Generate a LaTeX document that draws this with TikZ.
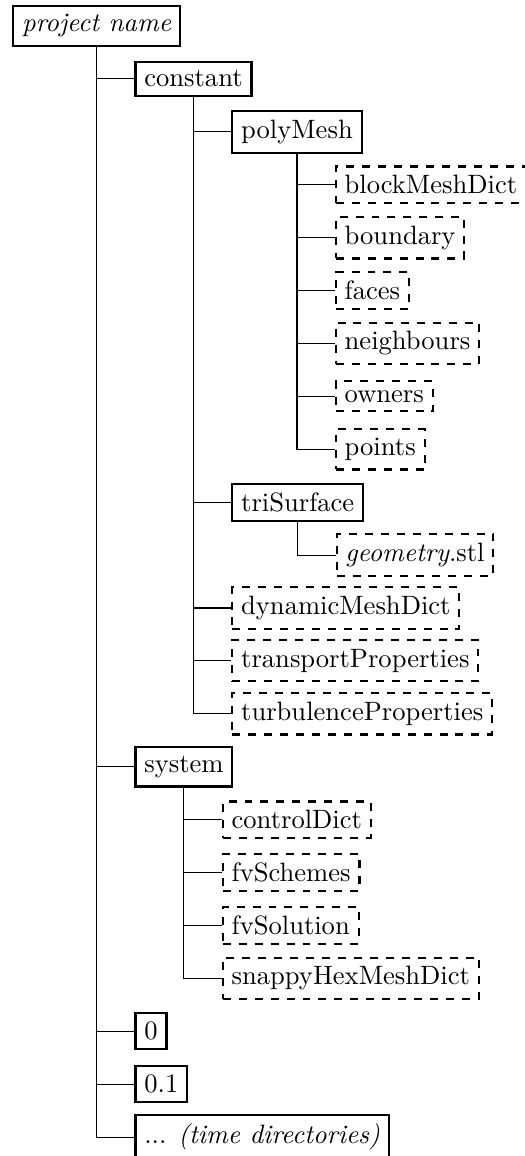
\documentclass[tikz,border=0pt]{standalone}
\begin{document}
\begin{tikzpicture}[
  dirbox/.style={draw, thick, anchor=west, xshift=5mm},
  filebox/.style={dirbox, dashed}
]
\useasboundingbox (-0.16,0.344) rectangle (6.78,-14.95);
\node[draw, thick, anchor=west] (root) at (0,0) {\textit{project name}};
%first level
\node[dirbox] (constant) at (root.south |- 0,-0.7) {constant};
\node[dirbox] (system) at (root.south |- 0,-9.8) {system};
\node[dirbox] (tzero) at (root.south |- 0,-13.3) {0};
\node[dirbox] (tone) at (root.south |- 0,-14.0) {0.1};
\node[dirbox] (tmore) at (root.south |- 0,-14.7) {... \textit{(time directories)}};
%inside constant
\node[dirbox] (polyMesh) at (constant.south |- 0,-1.4) {polyMesh};
\node[dirbox] (triSurface) at (constant.south |- 0,-6.3) {triSurface};
\node[filebox] (dynamic) at (constant.south |- 0,-7.7) {dynamicMeshDict};
\node[filebox] (transport) at (constant.south |- 0,-8.4) {transportProperties};
\node[filebox] (turbulence) at (constant.south |- 0,-9.1) {turbulenceProperties};
%inside polyMesh
\node[filebox] (blockMesh) at (polyMesh.south |- 0,-2.1) {blockMeshDict};
\node[filebox] (boundary) at (polyMesh.south |- 0,-2.8) {boundary};
\node[filebox] (faces) at (polyMesh.south |- 0,-3.5) {faces};
\node[filebox] (neighbours) at (polyMesh.south |- 0,-4.2) {neighbours};
\node[filebox] (owners) at (polyMesh.south |- 0,-4.9) {owners};
\node[filebox] (points) at (polyMesh.south |- 0,-5.6) {points};
%inside triSurface
\node[filebox] (geometry) at (triSurface.south |- 0,-7.0) {\textit{geometry}.stl};
%inside system
\node[filebox] (control) at (system.south |- 0,-10.5) {controlDict};
\node[filebox] (schemes) at (system.south |- 0,-11.2) {fvSchemes};
\node[filebox] (solution) at (system.south |- 0,-11.9) {fvSolution};
\node[filebox] (snappy) at (system.south |- 0,-12.6) {snappyHexMeshDict};

%tree lines
\foreach \kid in {constant, system, tzero, tone, tmore}
  \draw (root.south) |- (\kid.west);
\foreach \kid in {polyMesh, triSurface, dynamic, transport, turbulence}
  \draw (constant.south) |- (\kid.west);
\foreach \kid in {blockMesh, boundary, faces, neighbours, owners, points}
  \draw (polyMesh.south) |- (\kid.west);
\draw (triSurface.south) |- (geometry.west);
\foreach \kid in {control, schemes, solution, snappy}
  \draw (system.south) |- (\kid.west);
\end{tikzpicture}
\end{document}
